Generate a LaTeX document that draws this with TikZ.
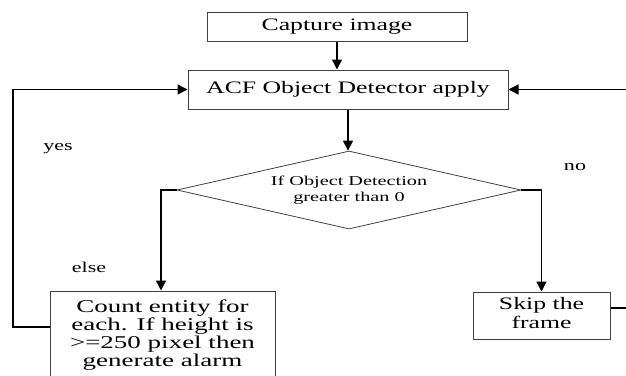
\documentclass[tikz,border=0pt]{standalone}
\usepackage{fontspec}
\setmainfont{Liberation Serif}
\usepackage{graphicx}
\usetikzlibrary{arrows.meta,shapes.geometric}
\newcommand{\hs}[2][1.47]{\scalebox{#1}[1]{#2}}
\tikzset{
  box/.style={draw=black!75, line width=1pt, fill=white, inner sep=0pt},
  boxfont/.style={font=\fontsize{17.5}{19}\selectfont},
  arr/.style={draw=black, line width=1.3pt, -{Triangle[length=10pt,width=10pt]}},
  lbl/.style={font=\fontsize{15}{17}\selectfont, inner sep=0pt},
}
\begin{document}
\begin{tikzpicture}[x=1pt,y=-1pt]
\useasboundingbox (0,0) rectangle (626,375);
% nodes
\node[box, boxfont, minimum width=260pt, minimum height=29pt] (cap) at (337,26.5) {\hs{Capture image}};
\node[box, boxfont, minimum width=320pt, minimum height=39pt] (acf) at (348,89.5) {\hs{ACF Object Detector apply}};
\node[diamond, draw=black!75, line width=0.8pt, inner sep=0pt, aspect=4.4, minimum width=344pt, minimum height=78pt, font=\fontsize{13.5}{17}\selectfont] (dia) at (349,190) {\hs[1.5]{\begin{tabular}{@{}c@{}}If Object Detection\\[-1pt] greater than 0\end{tabular}}};
\node[box, minimum width=225pt, minimum height=89pt, font=\fontsize{18}{17.8}\selectfont] (cnt) at (162.5,335.5) {\hs[1.5]{\begin{tabular}{@{}c@{}}Count entity for\\ each. If height is\\ >=250 pixel then\\ generate alarm\end{tabular}}};
\node[box, boxfont, minimum width=137pt, minimum height=47pt] (skip) at (541.5,315.5) {\hs{\begin{tabular}{@{}c@{}}Skip the\\ frame\end{tabular}}};
\node[lbl] (yes) at (58,149) {\hs{yes}};
\node[lbl] (no) at (575,167) {\hs{no}};
\node[lbl] (else) at (89,267) {\hs{else}};
% helper coordinates
\coordinate (lb) at (161,190);
\coordinate (rb) at (541.5,190);
\coordinate (yl) at (13,327);
\coordinate (rr) at (628,308);
% connectors
\draw[arr] (cap.south) -- (cap.south |- acf.north);
\draw[arr] (acf.south) -- (acf.south |- dia.north);
\draw[arr] (dia.west) -- (lb) -- (lb |- cnt.north);
\draw[arr] (dia.east) -- (rb) -- (skip.north);
\draw[arr] (cnt.west |- yl) -- (yl) |- (acf.west);
\draw[arr] (skip.east |- rr) -- (rr) |- (acf.east);
\end{tikzpicture}
\end{document}
